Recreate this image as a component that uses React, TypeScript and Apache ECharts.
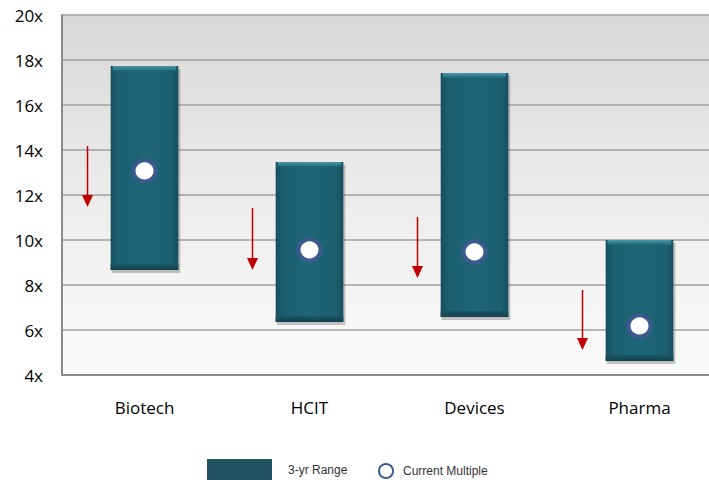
import React, { useEffect, useRef } from "react";
import * as echarts from "echarts";

const categories = ["Biotech", "HCIT", "Devices", "Pharma"];
const rangeLow = [8.67, 6.36, 6.58, 4.62];
const rangeHigh = [17.73, 13.47, 17.42, 10.0];
const currentMultiple = [13.07, 9.56, 9.47, 6.18];
const arrowFrom = [14.18, 11.42, 11.02, 7.78];
const arrowTo = [11.47, 8.67, 8.31, 5.11];
const yTicks = { min: 4, max: 20, interval: 2 };

export default function App() {
  const ref = useRef<HTMLDivElement>(null);
  useEffect(() => {
    const chart = echarts.init(ref.current!, undefined, { renderer: "svg" });
    const barFill = new echarts.graphic.LinearGradient(0, 0, 1, 0, [
      { offset: 0, color: "#164f5d" },
      { offset: 0.12, color: "#1c6070" },
      { offset: 0.5, color: "#1e6575" },
      { offset: 0.88, color: "#1c6070" },
      { offset: 1, color: "#164f5d" },
    ]);
    chart.setOption({
      animation: false,
      grid: {
        left: 62,
        top: 15,
        right: 18,
        bottom: 105,
        show: true,
        borderWidth: 0,
        backgroundColor: new echarts.graphic.LinearGradient(0, 0, 0, 1, [
          { offset: 0, color: "#d8d8d8" },
          { offset: 0.5, color: "#ececec" },
          { offset: 1, color: "#fbfbfb" },
        ]),
      },
      legend: [
        {
          data: [{ name: "3-yr Range", icon: "rect" }],
          left: 207,
          top: 459,
          padding: 0,
          itemWidth: 65,
          itemHeight: 22,
          textStyle: { fontFamily: "Liberation Sans", fontSize: 12, color: "#333", padding: [0, 0, 0, 11] },
          selectedMode: false,
        },
        {
          data: [{ name: "Current Multiple" }],
          left: 378,
          top: 463,
          padding: 0,
          itemWidth: 16,
          itemHeight: 14,
          textStyle: { fontFamily: "Liberation Sans", fontSize: 12, color: "#333", padding: [0, 0, 0, 4] },
          selectedMode: false,
        },
      ],
      xAxis: {
        type: "category",
        data: categories,
        axisLine: { show: true, lineStyle: { color: "#8a8a8a", width: 2 } },
        axisTick: { show: false },
        axisLabel: { fontFamily: "Open Sans", fontSize: 17, color: "#000", margin: 24 },
        splitLine: { show: false },
      },
      yAxis: {
        type: "value",
        min: yTicks.min,
        max: yTicks.max,
        interval: yTicks.interval,
        axisLine: { show: true, lineStyle: { color: "#8a8a8a", width: 2 } },
        axisTick: { show: false },
        axisLabel: { formatter: "{value}x", fontFamily: "Open Sans", fontSize: 17, color: "#000", margin: 19 },
        splitLine: { show: true, lineStyle: { color: "#a0a0a0", width: 1.5 } },
      },
      series: [
        {
          name: "3-yr Range",
          type: "custom",
          itemStyle: { color: "#22525f" },
          data: categories.map((_, i) => [i, rangeLow[i], rangeHigh[i]]),
          encode: { x: 0, y: [1, 2] },
          renderItem: (params: any, api: any) => {
            const idx = api.value(0);
            const lo = api.coord([idx, api.value(1)]);
            const hi = api.coord([idx, api.value(2)]);
            const bw = api.size([1, 0])[0] * 0.41;
            const x = lo[0] - bw / 2;
            const y = hi[1];
            const h = lo[1] - hi[1];
            return {
              type: "group",
              children: [
                {
                  type: "rect",
                  shape: { x: x + 1, y: y + 3, width: bw + 1, height: h },
                  style: { fill: "rgba(90,90,90,0.35)" },
                },
                {
                  type: "rect",
                  shape: { x, y, width: bw, height: h },
                  style: { fill: barFill },
                },
                {
                  type: "rect",
                  shape: { x: x + 2, y, width: bw - 4, height: 5 },
                  style: {
                    fill: new echarts.graphic.LinearGradient(0, 0, 0, 1, [
                      { offset: 0, color: "#4a98a8" },
                      { offset: 1, color: "#1e6575" },
                    ]),
                  },
                },
                {
                  type: "rect",
                  shape: { x, y: y + h - 6, width: bw, height: 6 },
                  style: {
                    fill: new echarts.graphic.LinearGradient(0, 0, 0, 1, [
                      { offset: 0, color: "#1a5867" },
                      { offset: 1, color: "#123f4a" },
                    ]),
                  },
                },
              ],
            };
          },
          z: 2,
        },
        {
          name: "Current Multiple",
          type: "scatter",
          data: categories.map((_, i) => [i, currentMultiple[i]]),
          symbol: "circle",
          symbolSize: [22, 21],
          itemStyle: { color: "#ffffff", borderColor: "#3d5a8e", borderWidth: 4, opacity: 1 },
          z: 5,
        },
        {
          name: "arrows",
          type: "custom",
          data: categories.map((_, i) => [i, arrowFrom[i], arrowTo[i]]),
          encode: { x: 0, y: [1, 2] },
          renderItem: (params: any, api: any) => {
            const idx = api.value(0);
            const a = api.coord([idx, api.value(1)]);
            const b = api.coord([idx, api.value(2)]);
            const x = a[0] - 57;
            return {
              type: "group",
              children: [
                {
                  type: "line",
                  shape: { x1: x, y1: a[1], x2: x, y2: b[1] - 10 },
                  style: { stroke: "#c00000", lineWidth: 1.5 },
                },
                {
                  type: "polygon",
                  shape: { points: [[x - 5.5, b[1] - 12], [x + 5.5, b[1] - 12], [x, b[1]]] },
                  style: { fill: "#c00000" },
                },
              ],
            };
          },
          z: 4,
        },
      ],
    });
    return () => chart.dispose();
  }, []);
  return (
    <div style={{ position: "fixed", left: 0, top: 0, width: 709, height: 480, overflow: "hidden", background: "#fff" }}>
      <div ref={ref} style={{ width: 740, height: 480 }} />
    </div>
  );
}
